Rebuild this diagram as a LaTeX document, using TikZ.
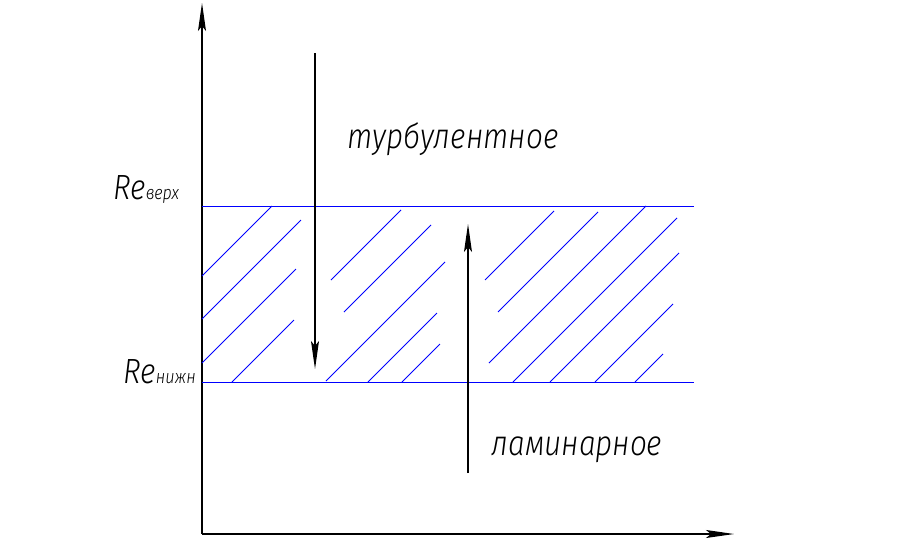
\documentclass[tikz,border=0pt]{standalone}
\usepackage{fontspec}
\newfontfamily\gostfont[FakeStretch=0.85]{Fira Sans Light Italic}
\usetikzlibrary{arrows.meta}
\definecolor{hatchblue}{HTML}{0000FF}

\begin{document}
\begin{tikzpicture}[x=1pt, y=-1pt, >={Stealth[length=28pt, width=8pt, inset=5pt]},
    line width=1.2pt, font=\gostfont]
  \useasboundingbox (0,0) rectangle (918,544);
  % ---- axes ----
  \coordinate (origin) at (202,534);
  \coordinate (ytop) at (202,3);
  \coordinate (xend) at (734,534);
  \draw[->] (origin) -- (ytop);
  \draw[->] (origin) -- (xend);
  % ---- Re levels ----
  \coordinate (upL) at (202,206); \coordinate (upR) at (694,206);
  \coordinate (loL) at (202,382); \coordinate (loR) at (694,382);
  \draw[hatchblue, line width=1pt] (upL) -- (upR);
  \draw[hatchblue, line width=1pt] (loL) -- (loR);
  % ---- hatching of the transition zone ----
  \foreach \x/\y/\d in {202/276/70, 202/319/99, 202/363/94, 232/382/62,
      331/280/70, 344/312/87, 326/381/119, 368/382/69, 402/382/38,
      485/280/69, 498/312/100, 489/363/157, 513/382/164, 550/382/129,
      595/382/78, 635/382/28}
    \draw[hatchblue, line width=0.8pt] (\x,\y) -- ++(\d,-\d);
  % ---- level labels ----
  \node[anchor=base west, inner sep=0] (reup) at (113,199)
    {\fontsize{35}{35}\selectfont Re\fontsize{19}{19}\selectfont верх};
  \node[anchor=base west, inner sep=0] (relow) at (123,383)
    {\fontsize{35}{35}\selectfont Re\fontsize{19}{19}\selectfont нижн};
  % ---- regime arrows ----
  \coordinate (turbtop) at (315,53); \coordinate (turbtip) at (315,369);
  \draw[->] (turbtop) -- (turbtip);
  \coordinate (lambot) at (468,473); \coordinate (lamtip) at (468,224);
  \draw[->] (lambot) -- (lamtip);
  \node[anchor=base west, inner sep=0] (turb) at (347,148)
    {\fontsize{35}{35}\selectfont турбулентное};
  \node[anchor=base west, inner sep=0] (lam) at (491,455)
    {\fontsize{35}{35}\selectfont ламинарное};
\end{tikzpicture}
\end{document}
